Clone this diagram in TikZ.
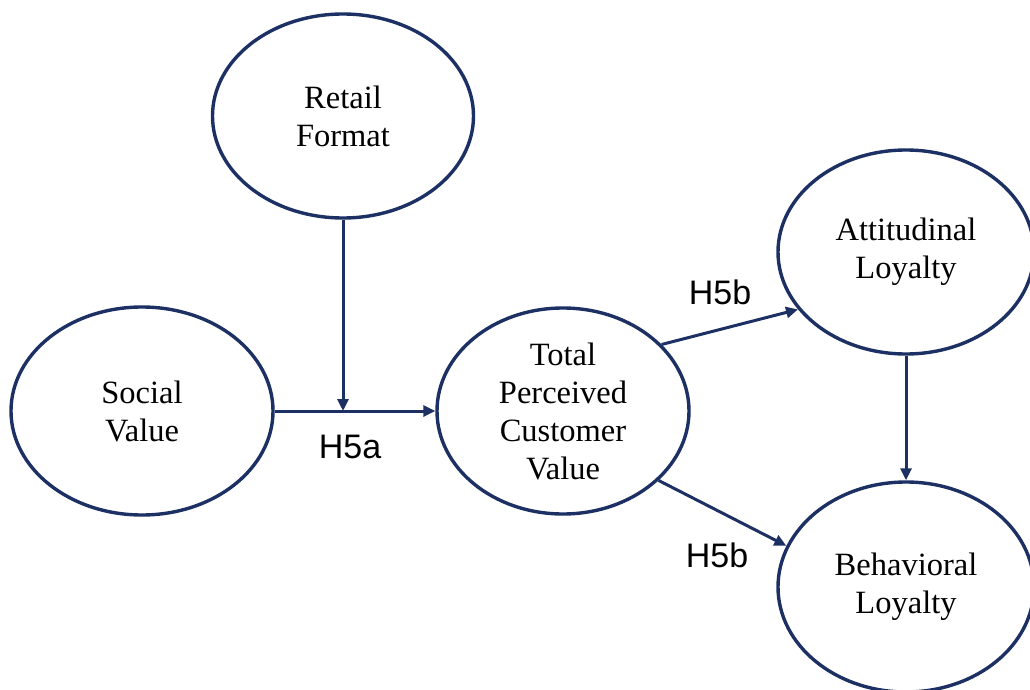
\documentclass[tikz,border=0pt]{standalone}
\usepackage{fontspec}
\setmainfont{Liberation Serif}
\newfontfamily\labelfont{Liberation Sans}
\usetikzlibrary{shapes.geometric,arrows.meta}
\definecolor{navy}{RGB}{28,48,100}
\begin{document}
\begin{tikzpicture}[x=1pt,y=-1pt,
  construct/.style={ellipse,draw=navy,line width=3.4pt,fill=white,inner sep=0pt,
    align=center,font=\fontsize{32.5}{38}\selectfont},
  link/.style={draw=navy,line width=3pt,-{Triangle[length=12pt,width=11pt]}},
  hyp/.style={font=\labelfont\fontsize{34}{40}\selectfont,inner sep=0pt}]
\useasboundingbox (0,0) rectangle (1030,690);
\node[construct,minimum width=261pt,minimum height=204pt] (retail) at (343,116) {Retail\\Format};
\node[construct,minimum width=262pt,minimum height=208pt] (social) at (142,411) {Social\\Value};
\node[construct,minimum width=252pt,minimum height=206pt] (total) at (563,411) {Total\\Perceived\\Customer\\Value};
\node[construct,minimum width=256pt,minimum height=204pt] (att) at (906,252) {Attitudinal\\Loyalty};
\node[construct,minimum width=256pt,minimum height=210pt] (beh) at (906,587) {Behavioral\\Loyalty};
\coordinate (mod) at (343,411);
\draw[link] (retail.south) -- (mod);
\draw[link] (social) -- (total);
\draw[link] (total.34) -- (att.208);
\draw[link] (total.-36) -- (beh.161);
\draw[link] (att.south) -- (beh.north);
\node[hyp] (h5a) at (350,447) {H5a};
\node[hyp] (h5b1) at (720,292) {H5b};
\node[hyp] (h5b2) at (717,555) {H5b};
\end{tikzpicture}
\end{document}
